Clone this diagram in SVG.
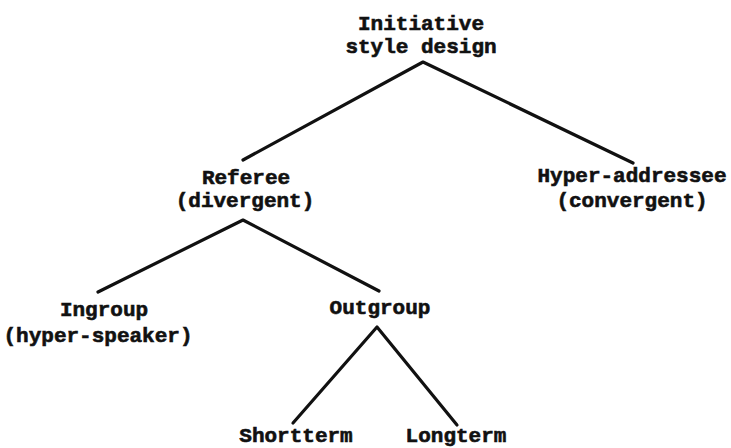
<svg xmlns="http://www.w3.org/2000/svg" width="731" height="448" viewBox="0 0 731 448">
  <style>
    .lbl { font-family: "Liberation Mono", "Courier New", monospace; font-weight: bold; font-size: 21px; fill: #111; stroke: #111; stroke-width: 0.6; text-anchor: middle; }
    .edge { stroke: #111; stroke-width: 3.2; stroke-linecap: round; stroke-linejoin: round; fill: none; }
  </style>
  <rect width="731" height="448" fill="#fff"/>
  <g id="connectors">
    <path class="edge" d="M243,160 L423,62 L633,163"/>
    <path class="edge" d="M98,292 L243,220 L379,291"/>
    <path class="edge" d="M293,423 L377,327 L457,425"/>
  </g>
  <g id="node-initiative">
    <text class="lbl" x="421" y="30">Initiative</text>
    <text class="lbl" x="421" y="53">style design</text>
  </g>
  <g id="node-referee">
    <text class="lbl" x="246" y="184">Referee</text>
    <text class="lbl" x="245" y="207">(divergent)</text>
  </g>
  <g id="node-hyper-addressee">
    <text class="lbl" x="632" y="182">Hyper-addressee</text>
    <text class="lbl" x="632" y="207">(convergent)</text>
  </g>
  <g id="node-ingroup">
    <text class="lbl" x="104" y="316">Ingroup</text>
    <text class="lbl" x="98" y="342">(hyper-speaker)</text>
  </g>
  <g id="node-outgroup">
    <text class="lbl" x="380" y="314">Outgroup</text>
  </g>
  <g id="node-shortterm">
    <text class="lbl" x="296" y="442">Shortterm</text>
  </g>
  <g id="node-longterm">
    <text class="lbl" x="456" y="442">Longterm</text>
  </g>
</svg>
